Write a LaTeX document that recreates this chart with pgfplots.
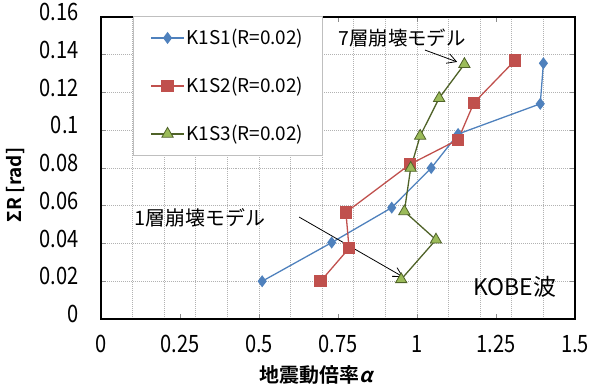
\documentclass[border=0pt]{standalone}
\usepackage{pgfplots}
\pgfplotsset{compat=1.18}
\usepackage{fontspec}
\usetikzlibrary{arrows.meta}
\setmainfont{Noto Sans CJK JP}[BoldFont={Noto Sans CJK JP Bold}]
\newfontfamily\tickfont{Noto Sans CJK JP}[FakeStretch=0.84]
\newfontfamily\boldslant{Noto Sans CJK JP Bold}[FakeSlant=0.25]
\definecolor{cblue}{HTML}{4F81BD}
\definecolor{cred}{HTML}{C0504D}
\definecolor{cgreen}{HTML}{9BBB59}
\definecolor{cdgreen}{HTML}{4F6228}
\begin{document}
\begin{tikzpicture}[x=1bp,y=1bp]
\useasboundingbox (-101,-69) rectangle (491,319);
\begin{axis}[
  at={(0,0)}, anchor=south west,
  scale only axis, width=474bp, height=302bp,
  xmin=0, xmax=1.5, ymin=0, ymax=0.16,
  xtick={0,0.25,0.5,0.75,1,1.25,1.5},
  xticklabels={0,0.25,0.5,0.75,1,1.25,1.5},
  ytick={0,0.02,0.04,0.06,0.08,0.1,0.12,0.14,0.16},
  yticklabels={0,0.02,0.04,0.06,0.08,0.1,0.12,0.14,0.16},
  minor xtick={0.1,0.2,0.3,0.4,0.5,0.6,0.7,0.8,0.9,1.0,1.1,1.2,1.3,1.4},
  ymajorgrids, xminorgrids,
  major grid style={black!30, dash pattern=on 1pt off 1pt, line width=0.7pt},
  minor grid style={black!30, dash pattern=on 1pt off 1pt, line width=0.7pt},
  tick align=inside, major tick length=5bp, minor tick length=0bp,
  major tick style={black!45, line width=0.8pt},
  axis line style={line width=1.6bp, black},
  xticklabel style={font=\tickfont\fontsize{24}{24}\selectfont, anchor=north, inner sep=0pt, text height=0.73em, text depth=0pt, yshift=-26bp},
  yticklabel style={font=\tickfont\fontsize{24}{24}\selectfont, anchor=east, inner sep=0pt, text height=0.73em, text depth=0pt, xshift=-22bp},
  xlabel={\textbf{地震動倍率}{\boldslant α}},
  ylabel={\textbf{ΣR [rad]}},
  xlabel style={font=\fontsize{20}{20}\selectfont, at={(axis description cs:0.4536,-0.187)}, anchor=center},
  ylabel style={font=\fontsize{19}{19}\selectfont, at={(axis description cs:-0.181,0.444)}, anchor=center, rotate=0},
  legend style={at={(axis description cs:0.0675,1.003)}, anchor=north west, draw=black!25, fill=white,
    font=\fontsize{19}{19}\selectfont, row sep=27bp, inner xsep=17bp, inner ysep=11bp, line width=0.8pt},
  legend cell align=left,
  legend image code/.code={\draw[mark repeat=2,mark phase=2,#1] plot coordinates {(0bp,0bp)(16.5bp,0bp)(33bp,0bp)};},
  clip=false,
]
\addplot[cblue, line width=1.3pt, mark=diamond*, mark size=5bp, mark options={fill=cblue, draw=cblue}]
  coordinates {(0.51,0.02) (0.73,0.0405) (0.92,0.059) (1.045,0.080) (1.13,0.098) (1.39,0.114) (1.40,0.1355)};
\addlegendentry{K1S1(R=0.02)}
\addplot[cred, line width=1.3pt, mark=square*, mark size=5.5bp, mark options={fill=cred, draw=cred}]
  coordinates {(0.695,0.02) (0.785,0.0375) (0.775,0.0565) (0.978,0.082) (1.13,0.095) (1.18,0.1145) (1.31,0.137)};
\addlegendentry{K1S2(R=0.02)}
\addplot[cdgreen, line width=1.3pt, mark=triangle*, mark size=6.5bp, mark options={fill=cgreen, draw=cdgreen, line width=0.8pt}]
  coordinates {(0.95,0.021) (1.06,0.042) (0.96,0.057) (0.98,0.08) (1.01,0.097) (1.07,0.117) (1.15,0.135)};
\addlegendentry{K1S3(R=0.02)}
\node[font=\fontsize{19.5}{19.5}\selectfont] at (axis cs:0.953,0.1489) {7層崩壊モデル};
\draw[-{Straight Barb[length=9bp,width=10bp]}, line width=0.8pt] (axis cs:1.025,0.1425) -- (axis cs:1.127,0.1362);
\node[font=\fontsize{20}{20}\selectfont] at (axis cs:0.313,0.0535) {1層崩壊モデル};
\draw[-{Straight Barb[length=9bp,width=10bp]}, line width=0.8pt] (axis cs:0.627,0.054) -- (axis cs:0.956,0.0223);
\node[font=\fontsize{23}{23}\selectfont] at (axis cs:1.31,0.017) {KOBE波};
\end{axis}
\end{tikzpicture}
\end{document}
